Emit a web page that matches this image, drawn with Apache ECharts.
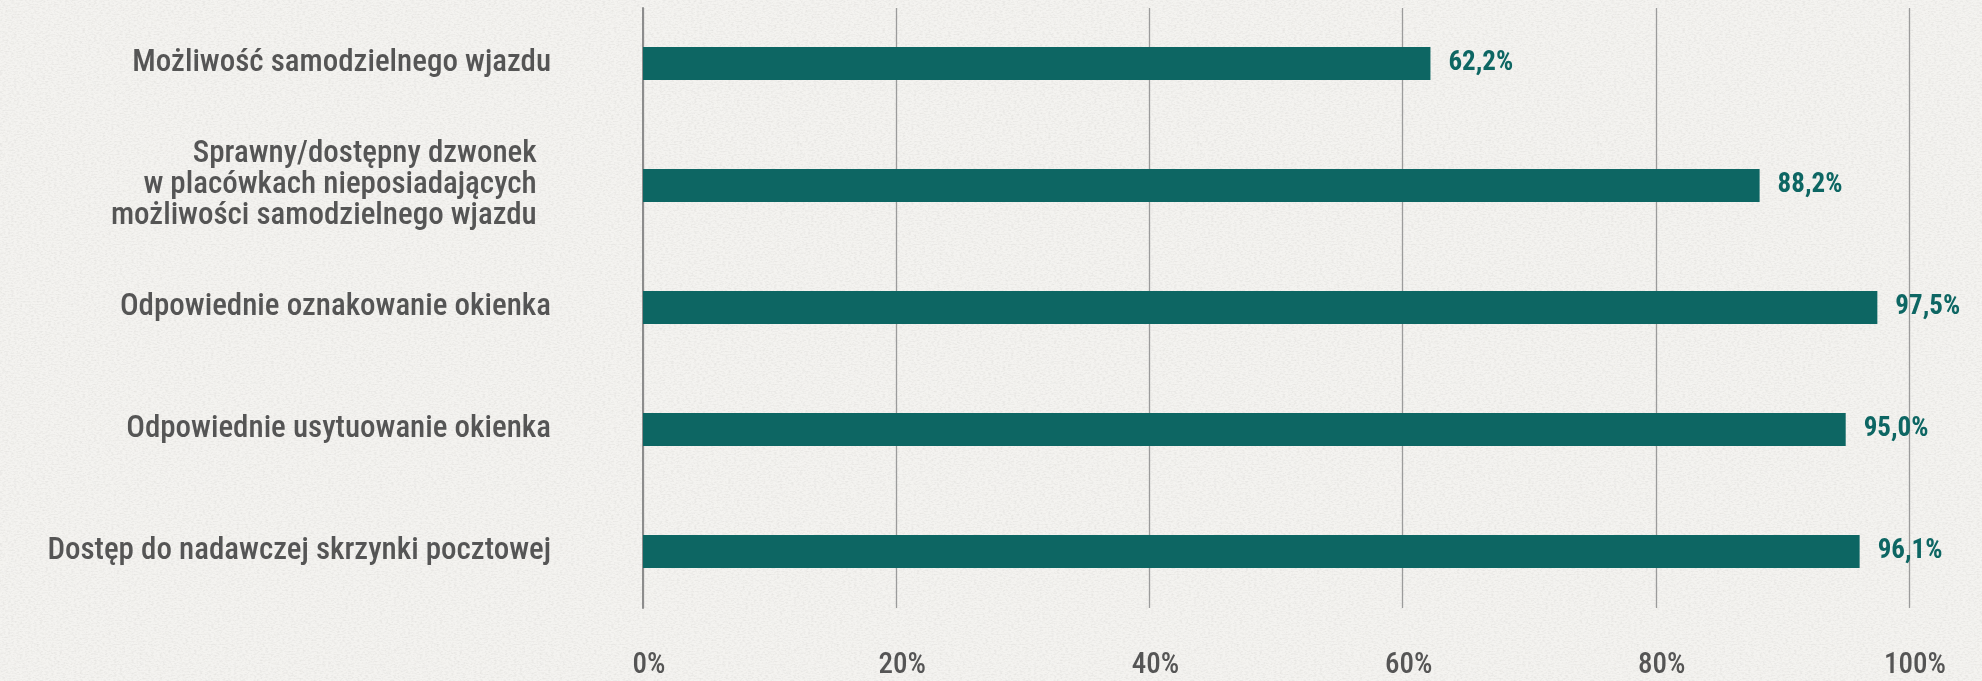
<!DOCTYPE html>
<html>
<head>
<meta charset="utf-8">
<script src="https://cdn.jsdelivr.net/npm/echarts@6/dist/echarts.min.js"></script>
<style>
  html, body { margin: 0; padding: 0; }
  body {
    background-color: #f4f3f0;
    /* light paper grain behind the chart */
    background-image: url("data:image/svg+xml;utf8,<svg xmlns='http://www.w3.org/2000/svg' width='400' height='400'><filter id='n'><feTurbulence type='fractalNoise' baseFrequency='0.35 0.7' numOctaves='3' seed='7'/><feColorMatrix values='0 0 0 0 0.6  0 0 0 0 0.59  0 0 0 0 0.57  0 0 0 -0.7 0.42'/></filter><rect width='100%' height='100%' filter='url(%23n)'/></svg>");
  }
  #chart { width: 1982px; height: 681px; }
</style>
</head>
<body>
<div id="chart"></div>
<script>
// Categories, top to bottom
const categories = [
  'Możliwość samodzielnego wjazdu',
  'Sprawny/dostępny dzwonek  \nw placówkach nieposiadających  \nmożliwości samodzielnego wjazdu  ',
  'Odpowiednie oznakowanie okienka',
  'Odpowiednie usytuowanie okienka',
  'Dostęp do nadawczej skrzynki pocztowej'
];
// Share of outlets meeting each criterion, in percent
const values = [62.2, 88.2, 97.5, 95.0, 96.1];
// Percent axis
const axisMin = 0;
const axisMax = 100;
const axisStep = 20;

const FONT = "'Roboto Condensed', Roboto, sans-serif";
const TEAL = '#0d6663';
const GREY_TEXT = '#555555';

const chart = echarts.init(document.getElementById('chart'));

chart.setOption({
  backgroundColor: 'transparent',
  animation: false,
  grid: [
    // bars and category labels
    { left: 643, right: 73, top: 2.5, height: 610, containLabel: false },
    // value scale with its vertical grid lines
    { left: 643, right: 73, top: 8, height: 600, containLabel: false }
  ],
  xAxis: [
    { gridIndex: 0, type: 'value', min: axisMin, max: axisMax, interval: axisStep, show: false },
    {
      gridIndex: 1, type: 'value', min: axisMin, max: axisMax, interval: axisStep,
      axisLine: { show: false },
      axisTick: { show: false },
      splitLine: { show: true, lineStyle: { color: '#9b9b9b', width: 1.3 } },
      axisLabel: {
        formatter: '{value}%',
        margin: 43,
        padding: [0, 0, 0, 12],
        color: GREY_TEXT,
        fontFamily: FONT,
        fontSize: 29,
        fontWeight: 500
      }
    }
  ],
  yAxis: [
    {
      gridIndex: 0, type: 'category', inverse: true,
      data: categories,
      axisLine: { show: false },
      axisTick: { show: false },
      splitLine: { show: false },
      axisLabel: {
        margin: 92,
        color: GREY_TEXT,
        fontFamily: FONT,
        fontSize: 31,
        fontWeight: 500,
        lineHeight: 31,
        align: 'right'
      }
    },
    {
      gridIndex: 1, type: 'value', min: 0, max: 1, show: true,
      axisLine: { show: true, lineStyle: { color: '#8c8c8c', width: 2 } },
      axisTick: { show: false },
      axisLabel: { show: false },
      splitLine: { show: false }
    }
  ],
  series: [{
    type: 'bar',
    xAxisIndex: 0,
    yAxisIndex: 0,
    data: values,
    barWidth: 33,
    itemStyle: { color: TEAL },
    label: {
      show: true,
      position: 'right',
      distance: 18,
      color: TEAL,
      fontFamily: FONT,
      fontSize: 27,
      fontWeight: 'bold',
      formatter: (p) => p.value.toFixed(1).replace('.', ',') + '%'
    }
  }]
});
</script>
</body>
</html>
